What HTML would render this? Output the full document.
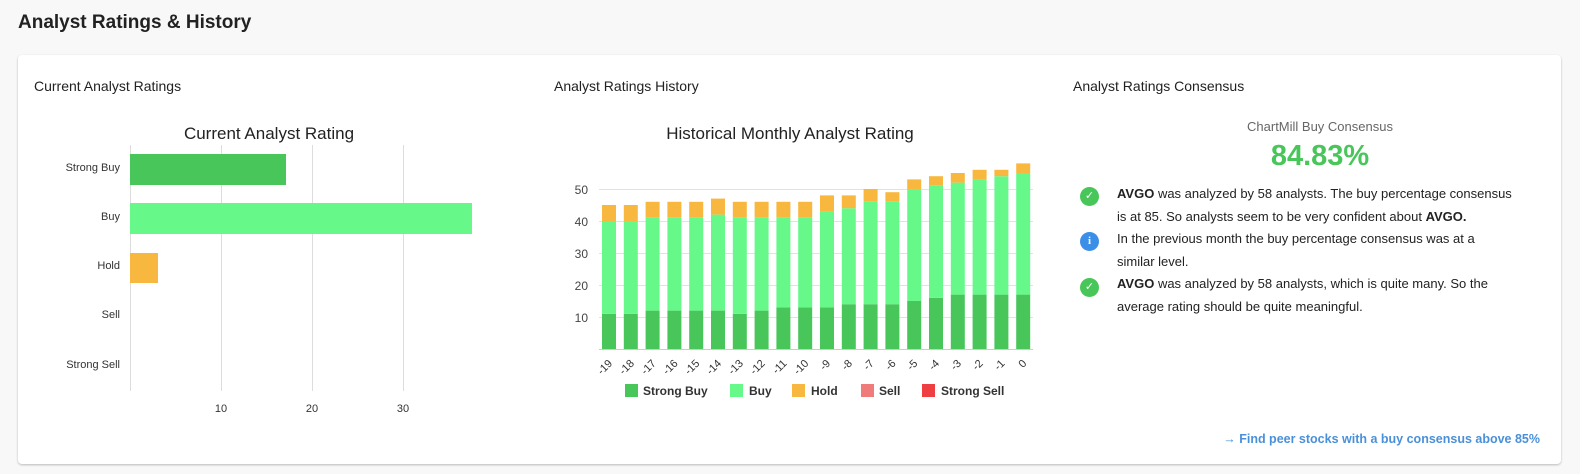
<!DOCTYPE html>
<html><head><meta charset="utf-8"><style>
body{margin:0;width:1580px;height:474px;background:#f8f8f8;font-family:"Liberation Sans","DejaVu Sans",sans-serif;position:relative;overflow:hidden;color:#222}
.h1{position:absolute;left:18px;top:12px;font-size:19px;font-weight:bold;color:#222}
.card{position:absolute;left:18px;top:55px;width:1543px;height:409px;background:#fff;border-radius:4px;box-shadow:0 1px 2px rgba(0,0,0,.25)}
.sub{position:absolute;font-size:14px;color:#222}
.txt{position:absolute;left:1117px;width:400px;font-size:13px;line-height:22.5px;color:#222}
.ic{position:absolute;left:1080px;width:19px;height:19px;border-radius:50%;color:#fff;font-size:11px;text-align:center;line-height:19px;font-weight:bold}
</style></head><body>
<div class="h1">Analyst Ratings &amp; History</div>
<div class="card"></div>
<div class="sub" style="left:34px;top:78px">Current Analyst Ratings</div>
<div class="sub" style="left:554px;top:78px">Analyst Ratings History</div>
<div class="sub" style="left:1073px;top:78px">Analyst Ratings Consensus</div>
<svg style="position:absolute;left:0;top:0" width="1580" height="474">
<g font-family="Liberation Sans,sans-serif">
<text x="269" y="139" font-size="17" text-anchor="middle" fill="#222">Current Analyst Rating</text>
<g stroke="#ddd" stroke-width="1">
<line x1="130.5" y1="145" x2="130.5" y2="391"/><line x1="221.5" y1="145" x2="221.5" y2="391"/><line x1="312.5" y1="145" x2="312.5" y2="391"/><line x1="403.5" y1="145" x2="403.5" y2="391"/></g>
<rect x="130" y="154" width="156" height="31" fill="#48c65a"/>
<rect x="130" y="203" width="342" height="31" fill="#66f98a"/>
<rect x="130" y="253" width="28" height="30" fill="#f8b83f"/>
<g font-size="11" fill="#333" text-anchor="end">
<text x="120" y="171">Strong Buy</text><text x="120" y="220">Buy</text><text x="120" y="269">Hold</text><text x="120" y="318">Sell</text><text x="120" y="368">Strong Sell</text></g>
<g font-size="11" fill="#333" text-anchor="middle"><text x="221" y="412">10</text><text x="312" y="412">20</text><text x="403" y="412">30</text></g>

<text x="790" y="139" font-size="17" text-anchor="middle" fill="#222">Historical Monthly Analyst Rating</text>
<g stroke="#e2e2e2"><line x1="599" y1="189.5" x2="1033" y2="189.5"/><line x1="599" y1="221.5" x2="1033" y2="221.5"/><line x1="599" y1="253.5" x2="1033" y2="253.5"/><line x1="599" y1="285.5" x2="1033" y2="285.5"/><line x1="599" y1="317.5" x2="1033" y2="317.5"/></g>
<line x1="599" y1="349.5" x2="1033" y2="349.5" stroke="#ccc"/>
<g font-size="12" fill="#444" text-anchor="end"><text x="588" y="194">50</text><text x="588" y="226">40</text><text x="588" y="258">30</text><text x="588" y="290">20</text><text x="588" y="322">10</text></g>
<g transform="translate(0,349) scale(1,-3.2)">
<g fill="#48c65a">
<rect x="602" y="0" width="14" height="11"/><rect x="623.8" y="0" width="14" height="11"/><rect x="645.6" y="0" width="14" height="12"/><rect x="667.4" y="0" width="14" height="12"/><rect x="689.2" y="0" width="14" height="12"/><rect x="711" y="0" width="14" height="12"/><rect x="732.8" y="0" width="14" height="11"/><rect x="754.6" y="0" width="14" height="12"/><rect x="776.4" y="0" width="14" height="13"/><rect x="798.2" y="0" width="14" height="13"/><rect x="820" y="0" width="14" height="13"/><rect x="841.8" y="0" width="14" height="14"/><rect x="863.6" y="0" width="14" height="14"/><rect x="885.4" y="0" width="14" height="14"/><rect x="907.2" y="0" width="14" height="15"/><rect x="929" y="0" width="14" height="16"/><rect x="950.8" y="0" width="14" height="17"/><rect x="972.6" y="0" width="14" height="17"/><rect x="994.4" y="0" width="14" height="17"/><rect x="1016.2" y="0" width="14" height="17"/></g>
<g fill="#66f98a">
<rect x="602" y="11" width="14" height="29"/><rect x="623.8" y="11" width="14" height="29"/><rect x="645.6" y="12" width="14" height="29"/><rect x="667.4" y="12" width="14" height="29"/><rect x="689.2" y="12" width="14" height="29"/><rect x="711" y="12" width="14" height="30"/><rect x="732.8" y="11" width="14" height="30"/><rect x="754.6" y="12" width="14" height="29"/><rect x="776.4" y="13" width="14" height="28"/><rect x="798.2" y="13" width="14" height="28"/><rect x="820" y="13" width="14" height="30"/><rect x="841.8" y="14" width="14" height="30"/><rect x="863.6" y="14" width="14" height="32"/><rect x="885.4" y="14" width="14" height="32"/><rect x="907.2" y="15" width="14" height="35"/><rect x="929" y="16" width="14" height="35"/><rect x="950.8" y="17" width="14" height="35"/><rect x="972.6" y="17" width="14" height="36"/><rect x="994.4" y="17" width="14" height="37"/><rect x="1016.2" y="17" width="14" height="38"/></g>
<g fill="#f8b83f">
<rect x="602" y="40" width="14" height="5"/><rect x="623.8" y="40" width="14" height="5"/><rect x="645.6" y="41" width="14" height="5"/><rect x="667.4" y="41" width="14" height="5"/><rect x="689.2" y="41" width="14" height="5"/><rect x="711" y="42" width="14" height="5"/><rect x="732.8" y="41" width="14" height="5"/><rect x="754.6" y="41" width="14" height="5"/><rect x="776.4" y="41" width="14" height="5"/><rect x="798.2" y="41" width="14" height="5"/><rect x="820" y="43" width="14" height="5"/><rect x="841.8" y="44" width="14" height="4"/><rect x="863.6" y="46" width="14" height="4"/><rect x="885.4" y="46" width="14" height="3"/><rect x="907.2" y="50" width="14" height="3"/><rect x="929" y="51" width="14" height="3"/><rect x="950.8" y="52" width="14" height="3"/><rect x="972.6" y="53" width="14" height="3"/><rect x="994.4" y="54" width="14" height="2"/><rect x="1016.2" y="55" width="14" height="3"/></g>
</g>
<g font-size="11" fill="#333" text-anchor="end">
<text transform="translate(613,364) rotate(-45)">-19</text><text transform="translate(634.8,364) rotate(-45)">-18</text><text transform="translate(656.6,364) rotate(-45)">-17</text><text transform="translate(678.4,364) rotate(-45)">-16</text><text transform="translate(700.2,364) rotate(-45)">-15</text><text transform="translate(722,364) rotate(-45)">-14</text><text transform="translate(743.8,364) rotate(-45)">-13</text><text transform="translate(765.6,364) rotate(-45)">-12</text><text transform="translate(787.4,364) rotate(-45)">-11</text><text transform="translate(809.2,364) rotate(-45)">-10</text><text transform="translate(831,364) rotate(-45)">-9</text><text transform="translate(852.8,364) rotate(-45)">-8</text><text transform="translate(874.6,364) rotate(-45)">-7</text><text transform="translate(896.4,364) rotate(-45)">-6</text><text transform="translate(918.2,364) rotate(-45)">-5</text><text transform="translate(940,364) rotate(-45)">-4</text><text transform="translate(961.8,364) rotate(-45)">-3</text><text transform="translate(983.6,364) rotate(-45)">-2</text><text transform="translate(1005.4,364) rotate(-45)">-1</text><text transform="translate(1027.2,364) rotate(-45)">0</text></g>
<g font-size="12" font-weight="bold" fill="#333">
<rect x="625" y="384" width="13" height="13" fill="#48c65a"/><text x="643" y="395">Strong Buy</text>
<rect x="730" y="384" width="13" height="13" fill="#66f98a"/><text x="749" y="395">Buy</text>
<rect x="792" y="384" width="13" height="13" fill="#f8b83f"/><text x="811" y="395">Hold</text>
<rect x="861" y="384" width="13" height="13" fill="#f07b7b"/><text x="879" y="395">Sell</text>
<rect x="922" y="384" width="13" height="13" fill="#ee3e42"/><text x="941" y="395">Strong Sell</text></g>

<text x="1320" y="131" font-size="13" text-anchor="middle" fill="#666">ChartMill Buy Consensus</text>
<text x="1320" y="165" font-size="29" font-weight="bold" text-anchor="middle" fill="#48c65a">84.83%</text>
<text x="1540" y="443" font-size="12.5" font-weight="bold" text-anchor="end" fill="#4a90d9">→ Find peer stocks with a buy consensus above 85%</text>
</g></svg>
<div class="ic" style="top:187px;background:#48c65a">✓</div>
<div class="ic" style="top:232px;background:#3b8fe6;font-family:'Liberation Serif',serif">i</div>
<div class="ic" style="top:278px;background:#48c65a">✓</div>
<div class="txt" style="top:183px"><b>AVGO</b> was analyzed by 58 analysts. The buy percentage consensus is at 85. So analysts seem to be very confident about <b>AVGO.</b></div>
<div class="txt" style="top:228px;width:380px">In the previous month the buy percentage consensus was at a similar level.</div>
<div class="txt" style="top:273px"><b>AVGO</b> was analyzed by 58 analysts, which is quite many. So the average rating should be quite meaningful.</div>
</body></html>
